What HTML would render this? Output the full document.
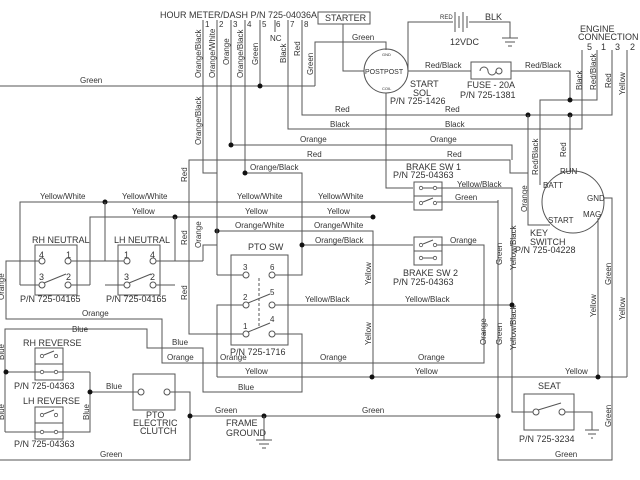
<!DOCTYPE html>
<html><head><meta charset="utf-8"><style>
html,body{margin:0;padding:0;background:#fff;}
svg{display:block}
text{font-family:"Liberation Sans",sans-serif;font-size:8px;fill:#333}
.m{font-family:"Liberation Sans",sans-serif;font-size:9px}
line,polyline,rect,circle.w,path{stroke:#555;stroke-width:1;fill:none}
circle.c{fill:#fff;stroke:#555}
circle.s{fill:#fff;stroke:#555;stroke-width:0.8}
circle.d{fill:#111;stroke:none}
</style></head><body>
<svg width="640" height="480" viewBox="0 0 640 480" xmlns="http://www.w3.org/2000/svg">
<text x="160" y="18" class="m">HOUR METER/DASH P/N 725-04036A</text>
<g class="m">
<text x="205" y="27">1</text><text x="219" y="27">2</text><text x="233" y="27">3</text><text x="247" y="27">4</text><text x="262" y="27">5</text><text x="276" y="27">6</text><text x="290" y="27">7</text><text x="304" y="27">8</text></g>
<text x="270" y="41">NC</text>
<line x1="203" y1="20" x2="203" y2="160"/>
<line x1="217" y1="20" x2="217" y2="173"/>
<line x1="231" y1="20" x2="231" y2="145"/>
<line x1="245" y1="20" x2="245" y2="173"/>
<line x1="260" y1="20" x2="260" y2="86"/>
<line x1="275" y1="20" x2="275" y2="32"/>
<polyline points="288,20 288,129 582,129 582,50"/>
<polyline points="302,20 302,115 612,115 612,50"/>
<line x1="0" y1="86" x2="315" y2="86"/>
<polyline points="315,86 315,42 386,42 386,50"/>
<circle class="d" cx="260" cy="86" r="2.5"/>
<text x="80" y="83">Green</text>
<g transform="rotate(-90)">
<text x="-78" y="201">Orange/Black</text>
<text x="-78" y="215">Orange/White</text>
<text x="-65" y="229">Orange</text>
<text x="-78" y="243">Orange/Black</text>
<text x="-65" y="258">Green</text>
<text x="-63" y="286">Black</text>
<text x="-56" y="300">Red</text>
<text x="-75" y="313">Green</text>
<text x="-145" y="201">Orange/Black</text>
<text x="-182" y="187">Red</text>
<text x="-245" y="187">Red</text>
<text x="-248" y="201">Orange</text>
<text x="-300" y="187">Red</text>
</g>
<rect x="318" y="12" width="52" height="12"/>
<text x="325" y="21" class="m">STARTER</text>
<polyline points="343,24 343,71 364,71"/>
<text x="352" y="40">Green</text>
<circle class="w" cx="386" cy="71" r="22"/>
<text x="365" y="74" style="font-size:7px">POSTPOST</text>
<text x="382" y="56" style="font-size:4px">GND</text>
<text x="382" y="90" style="font-size:4px">COIL</text>
<text x="410" y="87" class="m">START</text>
<text x="413" y="96" class="m">SOL</text>
<text x="390" y="104" class="m">P/N 725-1426</text>
<polyline points="386,93 386,188 413,188"/>
<polyline points="408,71 408,22 453,22"/>
<text x="440" y="19" style="font-size:6px">RED</text>
<line x1="455" y1="12" x2="455" y2="32"/><line x1="459" y1="16" x2="459" y2="28"/><line x1="463" y1="12" x2="463" y2="32"/><line x1="467" y1="16" x2="467" y2="28"/>
<polyline points="469,22 510,22 510,38"/>
<text x="485" y="20" class="m">BLK</text>
<text x="450" y="45" class="m">12VDC</text>
<line x1="502" y1="38" x2="518" y2="38"/><line x1="505" y1="42" x2="515" y2="42"/><line x1="508" y1="46" x2="512" y2="46"/>
<line x1="408" y1="71" x2="471" y2="71"/>
<text x="425" y="68">Red/Black</text>
<rect x="471" y="62" width="40" height="17"/>
<path d="M480 71 a4 4 0 1 1 8 0 a4 4 0 1 0 8 0"/>
<circle class="w" cx="499" cy="71" r="3"/>
<text x="467" y="88" class="m">FUSE - 20A</text>
<text x="460" y="98" class="m">P/N 725-1381</text>
<polyline points="511,71 570,71 570,100"/>
<text x="525" y="68">Red/Black</text>
<text x="580" y="32" class="m">ENGINE</text>
<text x="578" y="40" class="m">CONNECTION</text>
<text x="587" y="50" class="m">5</text><text x="601" y="50" class="m">1</text><text x="615" y="50" class="m">3</text><text x="630" y="50" class="m">2</text>
<polyline points="540,185 540,100 597,100 597,50"/>
<line x1="627" y1="50" x2="627" y2="377"/>
<circle class="d" cx="570" cy="100" r="2.5"/>
<circle class="d" cx="528" cy="115" r="2.5"/>
<circle class="d" cx="570" cy="115" r="2.5"/>
<line x1="570" y1="115" x2="570" y2="172"/>
<g transform="rotate(-90)">
<text x="-90" y="582">Black</text>
<text x="-90" y="596">Red/Black</text>
<text x="-88" y="611">Red</text>
<text x="-95" y="625">Yellow</text>
<text x="-175" y="538">Red/Black</text>
<text x="-157" y="566">Red</text>
<text x="-212" y="527">Orange</text>
</g>
<text x="335" y="112">Red</text><text x="445" y="112">Red</text>
<text x="330" y="127">Black</text><text x="445" y="127">Black</text>
<polyline points="231,145 512,145 512,160"/>
<text x="300" y="142">Orange</text><text x="430" y="142">Orange</text>
<polyline points="189,300 189,160 510,160 510,173 528,173"/>
<polyline points="528,115 528,225 550,225"/>
<text x="307" y="157">Red</text><text x="447" y="157">Red</text>
<circle class="d" cx="231" cy="145" r="2.5"/>
<polyline points="203,160 203,173 217,173"/>
<polyline points="245,173 302,173 302,275 272,275"/>
<circle class="d" cx="245" cy="173" r="2.5"/>
<text x="250" y="170">Orange/Black</text>
<circle class="w" cx="573" cy="202" r="31"/>
<text x="560" y="174">RUN</text><text x="543" y="188">BATT</text><text x="587" y="201">GND</text><text x="583" y="217">MAG</text><text x="548" y="223">START</text>
<text x="530" y="236" class="m">KEY</text><text x="530" y="245" class="m">SWITCH</text><text x="515" y="253" class="m">P/N 725-04228</text>
<polyline points="604,198 612,198 612,460 498,460 498,200"/>
<line x1="598" y1="218" x2="598" y2="377"/>
<polyline points="20,285 20,202 413,202"/>
<circle class="d" cx="105" cy="202" r="2.5"/>
<text x="40" y="199">Yellow/White</text><text x="122" y="199">Yellow/White</text><text x="237" y="199">Yellow/White</text><text x="318" y="199">Yellow/White</text>
<polyline points="90,285 90,217 373,217"/>
<circle class="d" cx="175" cy="217" r="2.5"/><circle class="d" cx="373" cy="217" r="2.5"/>
<text x="132" y="214">Yellow</text><text x="245" y="214">Yellow</text><text x="327" y="214">Yellow</text>
<polyline points="217,231 373,231 373,375"/>
<circle class="d" cx="217" cy="231" r="2.5"/>
<text x="235" y="228">Orange/White</text><text x="314" y="228">Orange/White</text>
<line x1="217" y1="173" x2="217" y2="275"/>
<polyline points="217,275 243,275"/>
<line x1="302" y1="245" x2="413" y2="245"/>
<circle class="d" cx="302" cy="245" r="2.5"/>
<text x="315" y="243">Orange/Black</text>
<polyline points="105,202 105,261 80,261"/>
<polyline points="175,217 175,261 165,261"/>
<!-- brake sw 1 -->
<text x="406" y="170" class="m">BRAKE SW 1</text><text x="393" y="178" class="m">P/N 725-04363</text>
<rect x="414" y="182" width="28" height="28"/><line x1="414" y1="196" x2="442" y2="196"/>
<circle class="s" cx="421" cy="188" r="1.7"/><circle class="s" cx="435" cy="188" r="1.7"/><line x1="423" y1="188" x2="433" y2="188"/>
<circle class="s" cx="421" cy="203" r="1.7"/><circle class="s" cx="435" cy="203" r="1.7"/><line x1="423" y1="202" x2="433" y2="198"/>
<text x="457" y="187">Yellow/Black</text>
<polyline points="437,188 512,188 512,410"/>
<line x1="437" y1="202" x2="498" y2="202"/>
<text x="455" y="200">Green</text>
<!-- brake sw 2 -->
<rect x="414" y="237" width="28" height="28"/><line x1="414" y1="251" x2="442" y2="251"/>
<circle class="s" cx="421" cy="245" r="1.7"/><circle class="s" cx="435" cy="245" r="1.7"/><line x1="423" y1="244" x2="433" y2="240"/>
<circle class="s" cx="421" cy="258" r="1.7"/><circle class="s" cx="435" cy="258" r="1.7"/><line x1="423" y1="258" x2="433" y2="258"/>
<text x="450" y="243">Orange</text>
<polyline points="437,245 484,245 484,363 172,363"/>
<text x="403" y="276" class="m">BRAKE SW 2</text><text x="393" y="285" class="m">P/N 725-04363</text>
<line x1="275" y1="305" x2="512" y2="305"/>
<circle class="d" cx="512" cy="305" r="2.5"/>
<text x="305" y="302">Yellow/Black</text><text x="405" y="302">Yellow/Black</text>
<line x1="217" y1="377" x2="627" y2="377"/>
<circle class="d" cx="372" cy="377" r="2.5"/><circle class="d" cx="598" cy="377" r="2.5"/>
<text x="245" y="374">Yellow</text><text x="415" y="374">Yellow</text><text x="565" y="374">Yellow</text>
<text x="220" y="360">Orange</text><text x="418" y="360">Orange</text><text x="320" y="360">Orange</text>
<g transform="rotate(-90)">
<text x="-285" y="371">Yellow</text><text x="-345" y="371">Yellow</text>
<text x="-345" y="486">Orange</text>
<text x="-345" y="502">Green</text><text x="-265" y="502">Green</text>
<text x="-350" y="516">Yellow/Black</text><text x="-270" y="516">Yellow/Black</text>
<text x="-317" y="596">Yellow</text><text x="-285" y="611">Green</text><text x="-320" y="625">Yellow</text>
<text x="-427" y="611">Green</text>
</g>
<text x="248" y="250" class="m">PTO SW</text>
<rect x="231" y="255" width="57" height="90"/>
<g class="m"><text x="243" y="270">3</text><text x="270" y="270">6</text><text x="243" y="300">2</text><text x="270" y="295">5</text><text x="243" y="329">1</text><text x="270" y="322">4</text></g>
<circle class="c" cx="246" cy="275" r="3"/><circle class="c" cx="272" cy="275" r="3"/>
<circle class="c" cx="246" cy="305" r="3"/><circle class="c" cx="272" cy="305" r="3"/>
<circle class="c" cx="246" cy="334" r="3"/><circle class="c" cx="272" cy="334" r="3"/>
<line x1="248" y1="303" x2="270" y2="294"/><line x1="248" y1="332" x2="270" y2="323"/>
<line x1="259" y1="278" x2="259" y2="328" style="stroke-dasharray:3,2"/>
<text x="230" y="355" class="m">P/N 725-1716</text>
<polyline points="243,305 217,305 217,377"/>
<polyline points="189,300 189,334 243,334"/>
<polyline points="275,334 302,334 302,392 203,392 203,348 147,348 147,329 5,329 5,432"/>
<text x="32" y="243" class="m">RH NEUTRAL</text>
<rect x="35" y="245" width="42" height="50"/>
<text x="39" y="258" class="m">4</text><text x="66" y="258" class="m">1</text><text x="39" y="280" class="m">3</text><text x="66" y="280" class="m">2</text>
<circle class="c" cx="42" cy="261" r="3"/><circle class="c" cx="68" cy="261" r="3"/><circle class="c" cx="42" cy="285" r="3"/><circle class="c" cx="68" cy="285" r="3"/>
<line x1="44" y1="283" x2="66" y2="274"/>
<line x1="20" y1="285" x2="39" y2="285"/><line x1="71" y1="285" x2="90" y2="285"/>
<polyline points="39,261 15,261"/><line x1="71" y1="261" x2="124" y2="261"/>
<text x="114" y="243" class="m">LH NEUTRAL</text>
<rect x="118" y="245" width="42" height="50"/>
<text x="124" y="258" class="m">1</text><text x="150" y="258" class="m">4</text><text x="124" y="280" class="m">3</text><text x="150" y="280" class="m">2</text>
<circle class="c" cx="127" cy="261" r="3"/><circle class="c" cx="153" cy="261" r="3"/><circle class="c" cx="127" cy="285" r="3"/><circle class="c" cx="153" cy="285" r="3"/>
<line x1="129" y1="283" x2="151" y2="274"/>
<polyline points="105,285 124,285"/><polyline points="156,285 175,285"/>
<line x1="156" y1="261" x2="203" y2="261"/>
<polyline points="203,261 203,245 217,245"/>
<text x="20" y="302" class="m">P/N 725-04165</text><text x="106" y="302" class="m">P/N 725-04165</text>
<polyline points="15,261 6,261 6,319 162,319 162,363 172,363"/>
<text x="82" y="316">Orange</text>
<text x="72" y="332">Blue</text><text x="172" y="345">Blue</text><text x="167" y="360">Orange</text><text x="238" y="390">Blue</text>
<g transform="rotate(-90)"><text x="-300" y="4">Orange</text><text x="-360" y="4">Blue</text><text x="-420" y="4">Blue</text><text x="-420" y="89">Blue</text></g>
<text x="23" y="346" class="m">RH REVERSE</text>
<rect x="35" y="348" width="28" height="32"/><line x1="35" y1="364" x2="63" y2="364"/>
<circle class="s" cx="42" cy="356" r="1.7"/><circle class="s" cx="56" cy="356" r="1.7"/><line x1="44" y1="355" x2="54" y2="351"/>
<circle class="s" cx="42" cy="372" r="1.7"/><circle class="s" cx="56" cy="372" r="1.7"/>
<line x1="6" y1="372" x2="40" y2="372"/><line x1="44" y1="372" x2="54" y2="372"/><line x1="58" y1="372" x2="90" y2="372"/>
<circle class="d" cx="6" cy="372" r="2.5"/>
<text x="14" y="389" class="m">P/N 725-04363</text>
<text x="23" y="404" class="m">LH REVERSE</text>
<rect x="35" y="407" width="28" height="32"/><line x1="35" y1="423" x2="63" y2="423"/>
<circle class="s" cx="42" cy="415" r="1.7"/><circle class="s" cx="56" cy="415" r="1.7"/><line x1="44" y1="414" x2="54" y2="410"/>
<circle class="s" cx="42" cy="432" r="1.7"/><circle class="s" cx="56" cy="432" r="1.7"/>
<polyline points="5,432 40,432"/><line x1="44" y1="432" x2="54" y2="432"/><polyline points="58,432 90,432 90,372"/>
<text x="14" y="447" class="m">P/N 725-04363</text>
<line x1="90" y1="392" x2="138" y2="392"/><circle class="d" cx="90" cy="392" r="2.5"/>
<text x="106" y="389">Blue</text>
<rect x="133" y="374" width="42" height="36"/>
<circle class="c" cx="141" cy="392" r="3"/><circle class="c" cx="167" cy="392" r="3"/>
<text x="146" y="418" class="m">PTO</text><text x="133" y="426" class="m">ELECTRIC</text><text x="140" y="434" class="m">CLUTCH</text>
<polyline points="170,392 190,392 190,460 0,460"/>
<text x="100" y="457">Green</text>
<line x1="190" y1="416" x2="498" y2="416"/>
<circle class="d" cx="190" cy="416" r="2.5"/><circle class="d" cx="264" cy="416" r="2.5"/><circle class="d" cx="498" cy="416" r="2.5"/>
<text x="215" y="413">Green</text><text x="362" y="413">Green</text>
<text x="226" y="426" class="m">FRAME</text><text x="226" y="436" class="m">GROUND</text>
<line x1="264" y1="416" x2="264" y2="440"/>
<line x1="256" y1="440" x2="272" y2="440"/><line x1="259" y1="444" x2="269" y2="444"/><line x1="262" y1="448" x2="266" y2="448"/>
<text x="538" y="389" class="m">SEAT</text>
<rect x="524" y="394" width="50" height="36"/>
<circle class="c" cx="536" cy="412" r="3"/><circle class="c" cx="562" cy="412" r="3"/>
<line x1="538" y1="410" x2="561" y2="403"/>
<polyline points="512,410 512,412 533,412"/>
<polyline points="565,412 592,412 592,430"/>
<line x1="585" y1="430" x2="599" y2="430"/><line x1="588" y1="434" x2="596" y2="434"/><line x1="591" y1="438" x2="593" y2="438"/>
<text x="519" y="442" class="m">P/N 725-3234</text>
<text x="555" y="457">Green</text>
</svg>
</body></html>
